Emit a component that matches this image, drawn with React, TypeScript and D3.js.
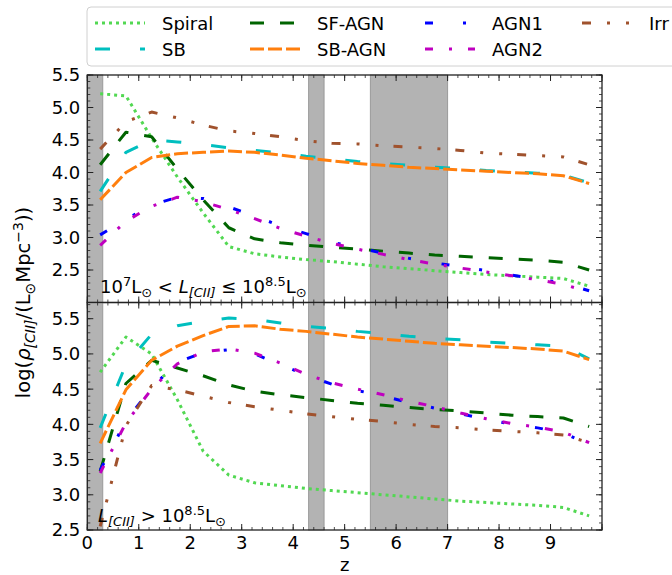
import React from "react";
import * as d3 from "d3";

// ---- data ----
const zBins = [0.25, 0.75, 1.25, 1.75, 2.25, 2.75, 3.25, 3.75, 4.25, 4.75, 5.25, 5.75, 6.25, 6.75, 7.25, 7.75, 8.25, 8.75, 9.25, 9.75];

const spiralTop = [5.21, 5.18, 4.53, 3.93, 3.38, 2.86, 2.75, 2.70, 2.66, 2.63, 2.59, 2.55, 2.52, 2.49, 2.46, 2.43, 2.41, 2.39, 2.37, 2.25];
const sbTop = [3.71, 4.31, 4.50, 4.47, 4.43, 4.38, 4.34, 4.30, 4.25, 4.21, 4.17, 4.14, 4.11, 4.08, 4.06, 4.03, 4.01, 3.99, 3.96, 3.84];
const sfagnTop = [4.12, 4.62, 4.55, 4.05, 3.58, 3.15, 2.98, 2.92, 2.88, 2.85, 2.82, 2.79, 2.76, 2.73, 2.71, 2.69, 2.67, 2.65, 2.62, 2.50];
const sbagnTop = [3.58, 4.00, 4.23, 4.29, 4.31, 4.33, 4.31, 4.27, 4.22, 4.18, 4.14, 4.11, 4.08, 4.06, 4.04, 4.02, 4.00, 3.98, 3.95, 3.83];
const agn1Top = [3.04, 3.28, 3.50, 3.62, 3.60, 3.47, 3.33, 3.18, 3.06, 2.93, 2.84, 2.76, 2.68, 2.61, 2.55, 2.49, 2.42, 2.36, 2.30, 2.18];
const agn2Top = [2.88, 3.25, 3.48, 3.62, 3.55, 3.43, 3.29, 3.14, 3.02, 2.91, 2.82, 2.74, 2.66, 2.59, 2.53, 2.47, 2.41, 2.35, 2.28, 2.16];
const irrTop = [4.36, 4.78, 4.93, 4.84, 4.73, 4.64, 4.60, 4.55, 4.49, 4.45, 4.44, 4.41, 4.39, 4.37, 4.34, 4.30, 4.28, 4.26, 4.24, 4.12];

const spiralBot = [4.74, 5.24, 5.00, 4.35, 3.62, 3.28, 3.17, 3.13, 3.09, 3.06, 3.03, 3.00, 2.97, 2.94, 2.91, 2.89, 2.87, 2.85, 2.82, 2.70];
const sbBot = [3.95, 4.85, 5.28, 5.40, 5.46, 5.51, 5.49, 5.44, 5.39, 5.36, 5.32, 5.29, 5.25, 5.22, 5.20, 5.17, 5.15, 5.13, 5.11, 4.93];
const sfagnBot = [3.33, 4.58, 4.91, 4.80, 4.69, 4.56, 4.47, 4.42, 4.38, 4.34, 4.30, 4.27, 4.24, 4.21, 4.19, 4.16, 4.13, 4.11, 4.09, 3.97];
const sbagnBot = [3.73, 4.49, 4.91, 5.11, 5.26, 5.39, 5.40, 5.35, 5.32, 5.28, 5.24, 5.21, 5.18, 5.15, 5.13, 5.11, 5.09, 5.07, 5.04, 4.92];
const agn1Bot = [3.35, 4.05, 4.52, 4.88, 5.02, 5.06, 5.00, 4.85, 4.70, 4.57, 4.48, 4.40, 4.31, 4.23, 4.15, 4.07, 4.00, 3.95, 3.88, 3.71];
const agn2Bot = [3.31, 4.02, 4.50, 4.86, 5.03, 5.07, 5.01, 4.87, 4.71, 4.59, 4.50, 4.42, 4.33, 4.25, 4.16, 4.08, 4.01, 3.96, 3.89, 3.74];
const irrBot = [2.55, 3.98, 4.55, 4.49, 4.40, 4.31, 4.25, 4.20, 4.15, 4.11, 4.07, 4.04, 4.00, 3.97, 3.95, 3.92, 3.90, 3.88, 3.85, 3.74];

const seriesNames = ["Spiral", "SB", "SF-AGN", "SB-AGN", "AGN1", "AGN2", "Irr"];
const topValues = [spiralTop, sbTop, sfagnTop, sbagnTop, agn1Top, agn2Top, irrTop];
const botValues = [spiralBot, sbBot, sfagnBot, sbagnBot, agn1Bot, agn2Bot, irrBot];

const bands = [[0, 0.3], [4.3, 4.6], [5.5, 7.0]];
const xTickLabels = [0, 1, 2, 3, 4, 5, 6, 7, 8, 9];
const yTickLabels = [2.5, 3.0, 3.5, 4.0, 4.5, 5.0, 5.5];

// ---- styles ----
const colors = ["#52d852", "#00bfbf", "#006400", "#ff7f0e", "#0000ff", "#bf00bf", "#a0522d"];
const dashes = ["3,4", "15,30", "14,16", "14,4", "8,30,3,31", "8,16,3,16", "9,16,3,16,3,15"];

const FONT = "DejaVu Sans, sans-serif";
const FS = 18;

export default function App() {
  const x = d3.scaleLinear().domain([0, 10]).range([87.3, 602]);
  const yTop = d3.scaleLinear().domain([2.0, 5.5]).range([302.5, 75]);
  const yBot = d3.scaleLinear().domain([2.5, 5.73]).range([530, 302.5]);

  const panels = [
    { y: yTop, values: topValues },
    { y: yBot, values: botValues },
  ];

  const xMinor = d3.range(0, 10.001, 0.2);
  const xMajor = x.ticks(10);

  const renderPanel = (p: any, pi: number) => {
    const y = p.y;
    const [y0, y1] = y.range(); // bottom, top
    const [d0, d1] = y.domain();
    const yMinor = d3.range(Math.ceil(d0 * 10 - 1e-6) / 10, d1 + 1e-6, 0.1);
    const line = d3
      .line<number>()
      .x((_, i) => x(zBins[i]))
      .y((v) => y(v));
    const x0 = x.range()[0];
    const x1 = x.range()[1];
    return (
      <g key={pi}>
        {bands.map((b, i) => (
          <rect
            key={i}
            x={x(b[0])}
            y={y1}
            width={x(b[1]) - x(b[0])}
            height={y0 - y1}
            fill="#b3b3b3"
            stroke="#9a9a9a"
            strokeWidth={1}
          />
        ))}
        {p.values.map((vals: number[], si: number) => (
          <path
            key={si}
            d={line(vals) || ""}
            fill="none"
            stroke={colors[si]}
            strokeWidth={3}
            strokeDasharray={dashes[si]}
            strokeLinecap="butt"
            strokeLinejoin="round"
          />
        ))}
        {xMinor.map((t, i) => (
          <g key={"xm" + i}>
            <line x1={x(t)} x2={x(t)} y1={y0} y2={y0 - 3} stroke="#222" strokeWidth={0.8} />
            <line x1={x(t)} x2={x(t)} y1={y1} y2={y1 + 3} stroke="#222" strokeWidth={0.8} />
          </g>
        ))}
        {xMajor.map((t, i) => (
          <g key={"xM" + i}>
            <line x1={x(t)} x2={x(t)} y1={y0} y2={y0 - 6} stroke="#222" strokeWidth={1} />
            <line x1={x(t)} x2={x(t)} y1={y1} y2={y1 + 6} stroke="#222" strokeWidth={1} />
          </g>
        ))}
        {yMinor.map((t, i) => (
          <g key={"ym" + i}>
            <line x1={x0} x2={x0 + 3} y1={y(t)} y2={y(t)} stroke="#222" strokeWidth={0.8} />
            <line x1={x1} x2={x1 - 3} y1={y(t)} y2={y(t)} stroke="#222" strokeWidth={0.8} />
          </g>
        ))}
        {yTickLabels.map((t, i) => (
          <g key={"yM" + i}>
            <line x1={x0} x2={x0 + 6} y1={y(t)} y2={y(t)} stroke="#222" strokeWidth={1} />
            <line x1={x1} x2={x1 - 6} y1={y(t)} y2={y(t)} stroke="#222" strokeWidth={1} />
            <text
              x={x0 - 7}
              y={y(t)}
              dy="0.36em"
              textAnchor="end"
              fontSize={FS}
              fontFamily={FONT}
              fill="#000"
            >
              {t.toFixed(1)}
            </text>
          </g>
        ))}
        <rect x={x0} y={y1} width={x1 - x0} height={y0 - y1} fill="none" stroke="#222" strokeWidth={1.3} />
      </g>
    );
  };

  const legendCols = [95, 250, 425, 582];
  const legendRows = [23, 49];

  return (
    <svg
      width={672}
      height={575}
      style={{ position: "absolute", left: 0, top: 0, background: "#fff" }}
      fontFamily={FONT}
    >
      <rect x={0} y={0} width={672} height={575} fill="#fff" />
      {panels.map(renderPanel)}

      {/* panel annotations */}
      <text x={100} y={293} fontSize={FS} fontFamily={FONT} fill="#000">
        <tspan>10</tspan>
        <tspan fontSize={13} dy={-7}>7</tspan>
        <tspan dy={7}>L</tspan>
        <tspan fontSize={13} dy={4}>⊙</tspan>
        <tspan dy={-4}> &lt; </tspan>
        <tspan fontStyle="italic">L</tspan>
        <tspan fontSize={13} fontStyle="italic" dy={4}>[CII]</tspan>
        <tspan dy={-4}> ≤ 10</tspan>
        <tspan fontSize={13} dy={-7}>8.5</tspan>
        <tspan dy={7}>L</tspan>
        <tspan fontSize={13} dy={4}>⊙</tspan>
      </text>
      <text x={98} y={522} fontSize={FS} fontFamily={FONT} fill="#000">
        <tspan fontStyle="italic">L</tspan>
        <tspan fontSize={13} fontStyle="italic" dy={4}>[CII]</tspan>
        <tspan dy={-4}> &gt; 10</tspan>
        <tspan fontSize={13} dy={-7}>8.5</tspan>
        <tspan dy={7}>L</tspan>
        <tspan fontSize={13} dy={4}>⊙</tspan>
      </text>

      {/* x tick labels */}
      {xTickLabels.map((t, i) => (
        <text key={i} x={x(t)} y={549} textAnchor="middle" fontSize={FS} fontFamily={FONT} fill="#000">
          {t}
        </text>
      ))}
      <text x={x(5)} y={571} textAnchor="middle" fontSize={FS} fontFamily={FONT} fill="#000">
        z
      </text>

      {/* y label */}
      <text
        transform={`translate(30,${(yTop.range()[1] + yBot.range()[0]) / 2}) rotate(-90)`}
        textAnchor="middle"
        fontSize={19.5}
        fontFamily={FONT}
        fill="#000"
      >
        <tspan>log(</tspan>
        <tspan fontStyle="italic">ρ</tspan>
        <tspan fontSize={14} fontStyle="italic" dy={4.5}>[CII]</tspan>
        <tspan dy={-4.5}>/(L</tspan>
        <tspan fontSize={14} dy={4.5}>⊙</tspan>
        <tspan dy={-4.5}>Mpc</tspan>
        <tspan fontSize={14} dy={-7.5}>−3</tspan>
        <tspan dy={7.5}>))</tspan>
      </text>

      {/* legend */}
      <rect x={87} y={7} width={620} height={59} rx={4} fill="#fff" fillOpacity={0.8} stroke="#d0d0d0" strokeWidth={1} />
      {seriesNames.map((name, i) => {
        const col = Math.floor(i / 2);
        const row = i % 2;
        const lx = legendCols[col];
        const ly = legendRows[row];
        return (
          <g key={name}>
            <line
              x1={lx}
              x2={lx + 50}
              y1={ly}
              y2={ly}
              stroke={colors[i]}
              strokeWidth={3}
              strokeDasharray={dashes[i]}
            />
            <text x={lx + 67} y={ly + 6.5} fontSize={FS} fontFamily={FONT} fill="#000">
              {name}
            </text>
          </g>
        );
      })}
    </svg>
  );
}
